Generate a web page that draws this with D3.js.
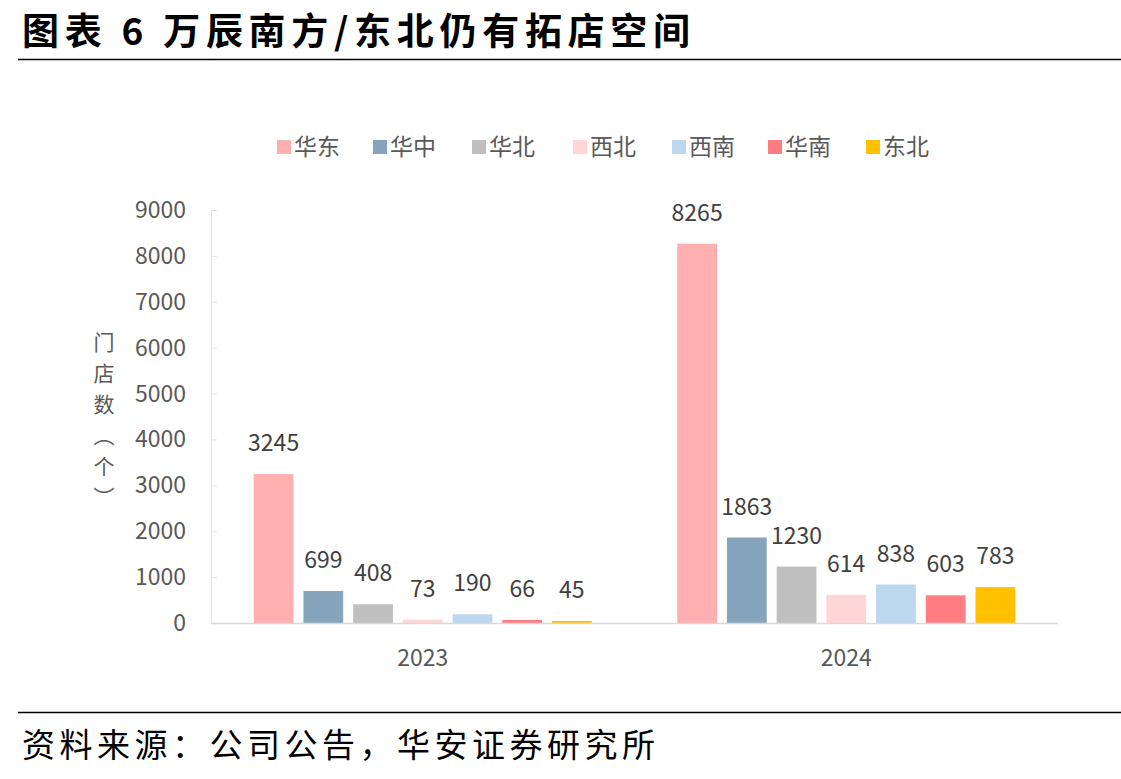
<!DOCTYPE html>
<html>
<head>
<meta charset="utf-8">
<script src="https://cdn.jsdelivr.net/npm/d3@7"></script>
<style>
  body { margin: 0; background: #fff; }
  svg text { font-family: "Noto Sans CJK SC", "Noto Sans", sans-serif; }
</style>
</head>
<body>
<div id="viz"></div>
<script>
// data
var years = ['2023', '2024'];
var regions = ['华东', '华中', '华北', '西北', '西南', '华南', '东北'];
var stores2023 = [3245, 699, 408, 73, 190, 66, 45];
var stores2024 = [8265, 1863, 1230, 614, 838, 603, 783];
var yTicks = [0, 1000, 2000, 3000, 4000, 5000, 6000, 7000, 8000, 9000];
var colorList = ['#ffafaf', '#86a5bd', '#bfbfbf', '#ffd5d5', '#bdd7ee', '#ff7c80', '#ffc000'];

var W = 1121, H = 779;
var margin = { top: 210, left: 211, right: 63, bottom: 156 };
var width = W - margin.left - margin.right,
    height = H - margin.top - margin.bottom;

var svg = d3.select('#viz').append('svg')
  .attr('width', W).attr('height', H);

// title + rules
svg.append('text')
  .attr('x', 22).attr('y', 45)
  .attr('textLength', 668).attr('lengthAdjust', 'spacing')
  .style('font-size', '37px').style('font-weight', 'bold').attr('fill', '#000')
  .text('图表 6 万辰南方/东北仍有拓店空间');
svg.append('line').attr('x1', 18).attr('x2', W).attr('y1', 59.5).attr('y2', 59.5)
  .attr('stroke', '#000').attr('stroke-width', 1.5);
svg.append('line').attr('x1', 18).attr('x2', W).attr('y1', 712.5).attr('y2', 712.5)
  .attr('stroke', '#000').attr('stroke-width', 1.5);
svg.append('text')
  .attr('x', 22).attr('y', 757)
  .attr('textLength', 633).attr('lengthAdjust', 'spacing')
  .style('font-size', '33px').attr('fill', '#000')
  .text('资料来源：公司公告，华安证券研究所');

var data = years.map(function(y, i) {
  return { year: y, vals: i == 0 ? stores2023 : stores2024 };
});

var xScale = d3.scaleBand().domain(years).range([0, width]);
var inner = d3.scaleBand().domain(regions)
  .range([0, xScale.bandwidth()]).paddingInner(0.2).paddingOuter(0.86);
var yScale = d3.scaleLinear().domain([0, 9000]).range([height, 0]);
var colors = d3.scaleOrdinal().domain(regions).range(colorList);

var chart = svg.append('g')
  .attr('transform', 'translate(' + margin.left + ',' + margin.top + ')');

// y axis
var yAxis = chart.append('g')
  .call(d3.axisRight(yScale).tickValues(yTicks).tickSize(6).tickFormat(''));
yAxis.selectAll('line').attr('stroke', '#e6e3da');
yAxis.select('.domain').attr('stroke', '#e6e3da');
chart.selectAll('.ylab').data(yTicks).enter().append('text')
  .attr('x', -25).attr('y', function(d) { return yScale(d); })
  .attr('dy', '0.35em').attr('text-anchor', 'end')
  .style('font-size', '23px').attr('fill', '#595959')
  .text(function(d) { return d; });

// y title, one char per line
var ytitle = '门店数︵个︶'.split('');
svg.append('g').selectAll('text').data(ytitle).enter().append('text')
  .attr('x', 104).attr('y', function(d, i) { return 343 + i * 31; })
  .attr('dy', '0.35em').attr('text-anchor', 'middle')
  .style('font-size', '21px').attr('fill', '#595959')
  .text(function(d) { return d; });

// bars
var groups = chart.selectAll('.grp').data(data).enter().append('g')
  .attr('transform', function(d) { return 'translate(' + xScale(d.year) + ',0)'; });

groups.selectAll('rect').data(function(d) { return d.vals; }).enter().append('rect')
  .attr('x', function(d, i) { return inner(regions[i]); })
  .attr('width', inner.bandwidth())
  .attr('y', function(d) { return yScale(d); })
  .attr('height', function(d) { return height - yScale(d); })
  .attr('fill', function(d, i) { return colors(regions[i]); });

groups.selectAll('.val').data(function(d) { return d.vals; }).enter().append('text')
  .attr('x', function(d, i) { return inner(regions[i]) + inner.bandwidth() / 2; })
  .attr('y', function(d) { return yScale(d) - 23; })
  .attr('text-anchor', 'middle')
  .style('font-size', '23px').attr('fill', '#404040')
  .text(function(d) { return d; });

// baseline + x labels
chart.append('line').attr('x1', 0).attr('x2', width)
  .attr('y1', height + 0.5).attr('y2', height + 0.5)
  .attr('stroke', '#d9d9d9').attr('stroke-width', 1.5);
var xAxis = chart.append('g').attr('transform', 'translate(0,' + height + ')')
  .call(d3.axisBottom(xScale).tickSize(0).tickPadding(27));
xAxis.select('.domain').remove();
xAxis.selectAll('text').style('font-size', '23px').attr('fill', '#595959')
  .style('font-family', '"Noto Sans CJK SC", sans-serif');

// legend
var legendX = [277, 373, 472, 573, 672, 768, 866];
var legend = svg.append('g').selectAll('g').data(regions).enter().append('g')
  .attr('transform', function(d, i) { return 'translate(' + legendX[i] + ',140)'; });
legend.append('rect').attr('width', 14).attr('height', 14)
  .attr('fill', function(d) { return colors(d); });
legend.append('text').attr('x', 17).attr('y', 7).attr('dy', '0.36em')
  .style('font-size', '23px').attr('fill', '#595959')
  .text(function(d) { return d; });
</script>
</body>
</html>
